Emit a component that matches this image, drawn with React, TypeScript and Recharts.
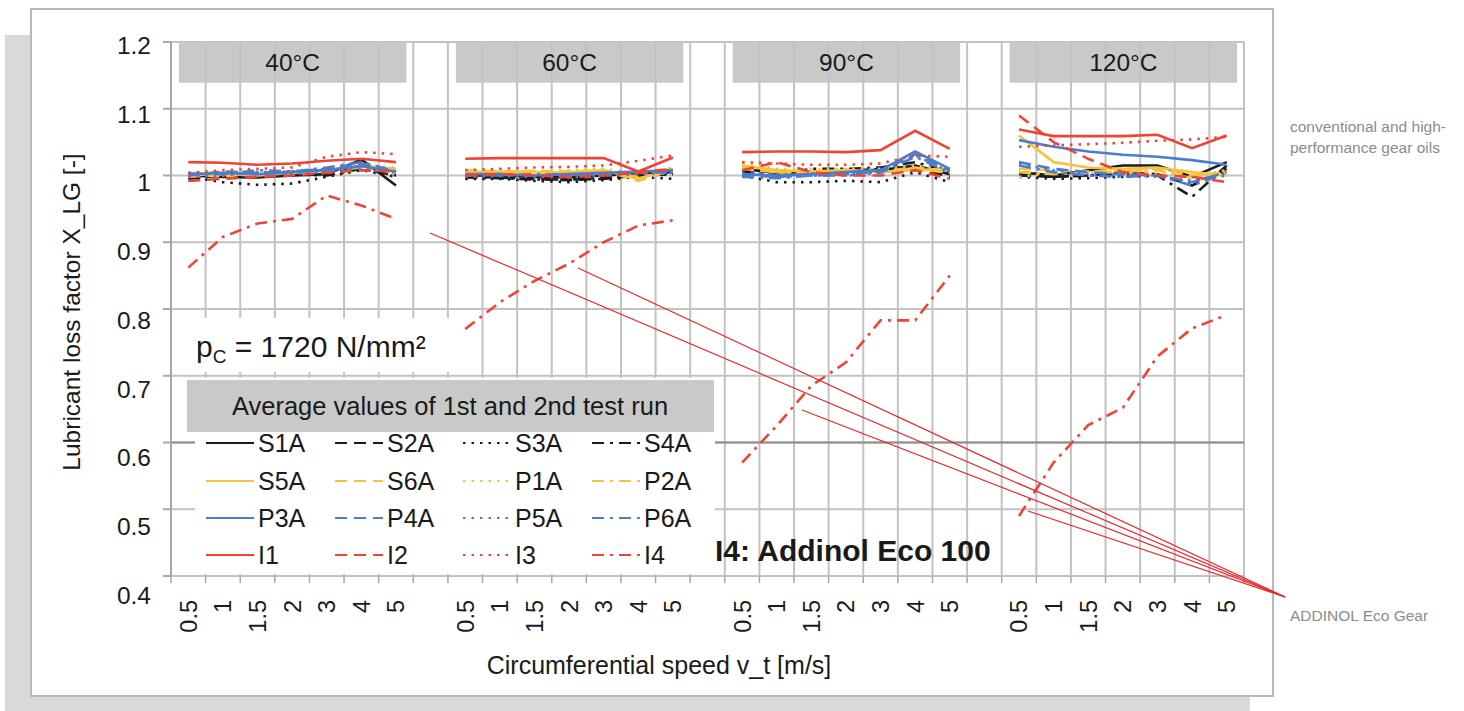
import React from 'react';
import { LineChart, Line, XAxis, YAxis, CartesianGrid, ReferenceLine, ReferenceArea } from 'recharts';

const FONT = '"Liberation Sans", Arial, Helvetica, sans-serif';

const PANELS = ['40°C', '60°C', '90°C', '120°C'];
const SPEED_LABELS = ['0.5', '1', '1.5', '2', '3', '4', '5'];
const Y_TICKS = [0.4, 0.5, 0.6, 0.7, 0.8, 0.9, 1.0, 1.1, 1.2];

// values per panel (40, 60, 90, 120 °C), per speed (0.5 .. 5 m/s)
const S1A = [
  [1.0, 0.998, 0.997, 1.0, 1.002, 1.024, 0.985],
  [1.0, 1.0, 0.998, 0.997, 1.0, 1.003, 1.005],
  [1.01, 1.004, 1.005, 1.008, 1.008, 1.015, 1.002],
  [1.005, 1.0, 1.008, 1.015, 1.015, 0.998, 1.02],
];
const S2A = [
  [0.997, 1.0, 1.002, 1.0, 1.005, 1.015, 1.005],
  [0.998, 0.997, 0.995, 0.993, 0.995, 1.0, 1.003],
  [1.005, 0.998, 1.006, 1.006, 1.01, 1.012, 0.998],
  [1.0, 0.998, 1.0, 1.005, 1.002, 0.985, 1.01],
];
const S3A = [
  [0.998, 0.99, 0.986, 0.988, 0.998, 1.008, 0.998],
  [0.995, 0.995, 0.992, 0.99, 0.993, 0.998, 0.995],
  [1.0, 0.99, 0.99, 0.992, 0.99, 1.005, 0.99],
  [0.998, 0.995, 0.996, 0.998, 1.0, 0.99, 1.005],
];
const S4A = [
  [0.995, 1.0, 1.0, 1.002, 1.0, 1.01, 1.0],
  [0.997, 0.996, 0.994, 0.994, 0.996, 1.0, 1.002],
  [1.006, 1.0, 1.01, 1.01, 1.012, 1.02, 1.005],
  [1.002, 0.998, 1.0, 1.002, 1.0, 0.968, 1.015],
];
const S5A = [
  [1.0, 1.003, 1.0, 1.005, 1.008, 1.015, 1.01],
  [1.005, 1.006, 1.005, 1.004, 1.008, 0.995, 1.01],
  [1.015, 1.008, 1.006, 1.008, 1.005, 1.008, 1.01],
  [1.06, 1.02, 1.012, 1.01, 1.012, 1.005, 1.0],
];
const S6A = [
  [1.002, 0.998, 1.004, 1.003, 1.006, 1.018, 1.008],
  [1.008, 1.006, 1.007, 1.006, 1.008, 0.992, 1.008],
  [1.012, 1.004, 1.006, 1.006, 1.006, 1.012, 1.006],
  [1.01, 1.008, 1.006, 1.008, 1.01, 1.0, 1.004],
];
const P1A = [
  [1.004, 1.0, 1.006, 1.005, 1.01, 1.016, 1.012],
  [1.004, 1.005, 1.006, 1.008, 1.01, 1.002, 1.012],
  [1.018, 1.01, 1.01, 1.01, 1.01, 1.015, 1.008],
  [0.998, 1.004, 1.006, 1.002, 1.004, 0.998, 1.008],
];
const P2A = [
  [0.998, 1.002, 1.0, 1.004, 1.006, 1.012, 1.004],
  [1.006, 1.004, 1.002, 1.005, 1.006, 0.998, 1.006],
  [1.01, 1.005, 1.003, 1.006, 1.008, 1.01, 1.004],
  [1.005, 1.002, 1.004, 1.006, 1.008, 0.996, 1.006],
];
const P3A = [
  [1.002, 1.004, 1.002, 1.005, 1.008, 1.014, 1.006],
  [1.002, 1.002, 1.0, 1.002, 1.004, 1.006, 1.008],
  [1.002, 1.0, 1.002, 1.005, 1.008, 1.036, 1.01],
  [1.053, 1.043, 1.036, 1.031, 1.028, 1.023, 1.016],
];
const P4A = [
  [1.0, 1.006, 1.004, 1.006, 1.01, 1.018, 1.005],
  [1.0, 1.001, 1.0, 1.0, 1.003, 1.004, 1.005],
  [1.0, 0.998, 1.0, 1.002, 1.006, 1.032, 1.008],
  [1.02, 1.01, 1.005, 1.002, 1.0, 0.99, 1.005],
];
const P5A = [
  [0.998, 1.0, 1.005, 1.002, 1.006, 1.01, 1.004],
  [0.998, 0.999, 0.998, 0.997, 1.0, 1.002, 1.004],
  [1.004, 1.002, 1.0, 1.003, 1.005, 1.03, 1.006],
  [1.018, 1.008, 1.002, 1.0, 0.998, 0.992, 1.0],
];
const P6A = [
  [1.003, 1.002, 1.008, 1.006, 1.012, 1.02, 1.006],
  [1.001, 1.0, 1.002, 1.001, 1.002, 1.005, 1.006],
  [0.998, 0.996, 1.0, 1.0, 1.004, 1.028, 1.004],
  [1.015, 1.005, 1.0, 0.998, 1.0, 0.985, 1.004],
];
const I1 = [
  [1.02, 1.019, 1.016, 1.018, 1.022, 1.025, 1.02],
  [1.025, 1.026, 1.026, 1.026, 1.026, 1.006, 1.027],
  [1.035, 1.036, 1.036, 1.035, 1.038, 1.067, 1.04],
  [1.069, 1.059, 1.059, 1.059, 1.061, 1.041, 1.06],
];
const I2 = [
  [0.992, 0.995, 0.998, 1.0, 1.004, 1.008, 1.006],
  [1.0, 1.002, 1.0, 0.998, 1.0, 1.004, 1.01],
  [1.008, 1.02, 1.005, 1.0, 1.0, 1.008, 0.995],
  [1.09, 1.05, 1.025, 1.005, 1.0, 0.998, 0.99],
];
const I3 = [
  [1.004, 1.008, 1.01, 1.012, 1.028, 1.035, 1.032],
  [1.008, 1.01, 1.012, 1.013, 1.015, 1.022, 1.03],
  [1.02, 1.018, 1.016, 1.016, 1.018, 1.03, 1.028],
  [1.043, 1.045, 1.047, 1.049, 1.052, 1.054, 1.058],
];
const I4 = [
  [0.862, 0.908, 0.928, 0.935, 0.97, 0.955, 0.935],
  [0.77, 0.81, 0.842, 0.868, 0.9, 0.925, 0.933],
  [0.57, 0.625, 0.685, 0.72, 0.783, 0.783, 0.85],
  [0.49, 0.57, 0.626, 0.652, 0.729, 0.771, 0.791],
];

const BLACK = '#1c1c1c';
const YELLOW = '#f8c33c';
const BLUE = '#4a7ccf';
const RED = '#ef4434';
const SOLID = undefined;
const DASH = '12 7';
const DOT = '2.5 6';
const DASHDOT = '12 6 3 6';

const SERIES = [
  { key: 'S1A', color: BLACK, dash: SOLID, values: S1A },
  { key: 'S2A', color: BLACK, dash: DASH, values: S2A },
  { key: 'S3A', color: BLACK, dash: DOT, values: S3A },
  { key: 'S4A', color: BLACK, dash: DASHDOT, values: S4A },
  { key: 'S5A', color: YELLOW, dash: SOLID, values: S5A },
  { key: 'S6A', color: YELLOW, dash: DASH, values: S6A },
  { key: 'P1A', color: YELLOW, dash: DOT, values: P1A },
  { key: 'P2A', color: YELLOW, dash: DASHDOT, values: P2A },
  { key: 'P3A', color: BLUE, dash: SOLID, values: P3A },
  { key: 'P4A', color: BLUE, dash: DASH, values: P4A },
  { key: 'P5A', color: BLUE, dash: DOT, values: P5A },
  { key: 'P6A', color: BLUE, dash: DASHDOT, values: P6A },
  { key: 'I1', color: RED, dash: SOLID, values: I1 },
  { key: 'I2', color: RED, dash: DASH, values: I2 },
  { key: 'I3', color: RED, dash: DOT, values: I3 },
  { key: 'I4', color: RED, dash: DASHDOT, values: I4 },
];

const SLOTS = 8; // 7 speeds + 1 gap per panel
const N_POS = PANELS.length * SLOTS - 1;

const DATA = Array.from({ length: N_POS }, (_, idx) => {
  const p = Math.floor(idx / SLOTS);
  const i = idx % SLOTS;
  const row: any = { x: idx };
  SERIES.forEach((s) => {
    row[s.key] = i < SPEED_LABELS.length ? s.values[p][i] : null;
  });
  return row;
});

const HALF_TICKS = Array.from({ length: N_POS + 1 }, (_, k) => k - 0.5);
const LABEL_TICKS = DATA.filter((d) => d.x % SLOTS < SPEED_LABELS.length).map((d) => d.x);
const X_TICKS = [...HALF_TICKS, ...LABEL_TICKS].sort((a, b) => a - b);

const GRID = '#c2c2c2';
const TXT = '#1a1a1a';

const XTick = (props: any) => {
  const { x, y, payload } = props;
  const v = payload.value;
  if (!Number.isInteger(v)) {
    return <line x1={x} x2={x} y1={y} y2={y + 7} stroke="#a8a8a8" strokeWidth={1.5} />;
  }
  const label = SPEED_LABELS[v % SLOTS];
  const ty = y + 24;
  return (
    <text x={x} y={ty} dy="0.36em" transform={`rotate(-90 ${x} ${ty})`} textAnchor="end"
      fontSize={23.5} fill={TXT} fontFamily={FONT}>{label}</text>
  );
};

const YTick = (props: any) => {
  const { x, y, payload } = props;
  const v = payload.value;
  const label = Math.abs(v - 1) < 1e-9 ? '1' : v.toFixed(1);
  return (
    <text x={x} y={y + 3 + (1.2 - v) * 20} dy="0.36em" textAnchor="end" fontSize={24.5} fill={TXT} fontFamily={FONT}>{label}</text>
  );
};

const LEG_COLS = [206, 335, 463, 592];
const LEG_ROWS = [443, 481, 518, 555];

export default function App() {
  return (
    <div style={{ position: 'absolute', left: 0, top: 0, width: 1464, height: 711, background: '#fff', overflow: 'hidden', fontFamily: FONT }}>
      <div style={{ position: 'absolute', left: 5, top: 35, width: 1245, height: 676, background: '#d9d9d9' }} />
      <div style={{ position: 'absolute', left: 30, top: 8, width: 1240, height: 685, background: '#fff', border: '2px solid #b8b8b8' }} />
      <div style={{ position: 'absolute', left: 0, top: 0 }}>
        <LineChart width={1464} height={711} data={DATA} margin={{ top: 42, right: 220, bottom: 75, left: 111 }}>
          <CartesianGrid vertical={false} stroke={GRID} strokeWidth={2} />
          {HALF_TICKS.map((v) => (
            <ReferenceLine key={'v' + v} x={v} stroke={GRID} strokeWidth={2} />
          ))}
          <ReferenceLine y={0.6} stroke="#8e8e8e" strokeWidth={2} />
          <XAxis dataKey="x" type="number" domain={[-0.5, N_POS - 0.5]} ticks={X_TICKS} interval={0}
            tick={<XTick />} tickLine={false} tickSize={0} tickMargin={0} axisLine={false} height={60} />
          <YAxis type="number" domain={[0.4, 1.2]} ticks={Y_TICKS} interval={0} width={60}
            tick={<YTick />} tickSize={8} tickMargin={12} tickLine={{ stroke: '#a8a8a8', strokeWidth: 2 }}
            axisLine={{ stroke: '#a8a8a8', strokeWidth: 2 }} />
          {PANELS.map((name, p) => (
            <ReferenceArea key={name} x1={p * SLOTS - 0.27} x2={p * SLOTS + 6.3} y1={1.139} y2={1.2}
              fill="#c9c9c9" fillOpacity={1} stroke="none"
              label={{ value: name, position: 'center', fontSize: 24.5, fill: TXT, fontFamily: FONT }} />
          ))}
          {SERIES.map((s) => (
            <Line key={s.key} dataKey={s.key} type="linear" stroke={s.color} strokeWidth={2.6}
              strokeDasharray={s.dash} dot={false} activeDot={false} isAnimationActive={false} connectNulls={false} />
          ))}
        </LineChart>
      </div>
      <svg width={1464} height={711} style={{ position: 'absolute', left: 0, top: 0 }} fontFamily={FONT}>
        {/* p_C label box */}
        <rect x={173} y={318} width={285} height={54} fill="#fff" />
        <text x={196} y={357} fontSize={30} fill={TXT}>
          p<tspan fontSize={19} dy={6}>C</tspan><tspan dy={-6}> = 1720 N/mm²</tspan>
        </text>
        {/* legend */}
        <rect x={195} y={378} width={520} height={196} fill="#fff" />
        <rect x={187} y={380} width={527} height={52} fill="#c9c9c9" />
        <text x={450} y={415} textAnchor="middle" fontSize={25.5} fill={TXT}>Average values of 1st and 2nd test run</text>
        {SERIES.map((s, k) => {
          const cx = LEG_COLS[k % 4];
          const cy = LEG_ROWS[Math.floor(k / 4)];
          return (
            <g key={s.key}>
              <line x1={cx} x2={cx + 48} y1={cy} y2={cy} stroke={s.color} strokeWidth={2.2} strokeDasharray={s.dash} />
              <text x={cx + 52} y={cy + 9} fontSize={25} fill={TXT}>{s.key}</text>
            </g>
          );
        })}
        <text x={715} y={561} fontSize={30} fontWeight="bold" fill={TXT}>I4: Addinol Eco 100</text>
        {/* axis titles */}
        <text x={659} y={674} textAnchor="middle" fontSize={25} fill={TXT}>Circumferential speed v_t [m/s]</text>
        <text x={80} y={312} textAnchor="middle" fontSize={24.5} fill={TXT} transform="rotate(-90 80 312)">Lubricant loss factor X_LG [-]</text>
        {/* leader lines */}
        {[[430, 233], [578, 268], [802, 410], [1028, 511]].map(([x, y], k) => (
          <line key={k} x1={x} y1={y} x2={1285} y2={597} stroke="#e8262a" strokeWidth={1.2} />
        ))}
        <text x={1290} y={132} fontSize={15.5} fill="#8c8c8c">conventional and high-</text>
        <text x={1290} y={153} fontSize={15.5} fill="#8c8c8c">performance gear oils</text>
        <text x={1290} y={621} fontSize={15.5} fill="#8c8c8c">ADDINOL Eco Gear</text>
      </svg>
    </div>
  );
}
